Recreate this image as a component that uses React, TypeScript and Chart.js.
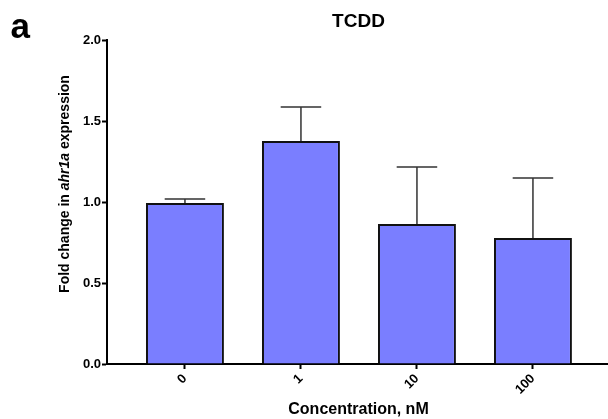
import React, { useEffect, useRef } from "react";
import { Chart, registerables } from "chart.js";

Chart.register(...registerables);

const CATEGORIES = ["0", "1", "10", "100"];
const MEANS = [0.994, 1.377, 0.864, 0.778];
const ERRORS = [0.025, 0.209, 0.352, 0.37];
const Y_TICKS = [0, 0.5, 1.0, 1.5, 2.0];
const PANEL_LABEL = "a";
const TITLE = "TCDD";
const X_TITLE = "Concentration, nM";
const Y_TITLE_PARTS = [
  { text: "Fold change in ", italic: false },
  { text: "ahr1a", italic: true },
  { text: " expression", italic: false },
];

const FONT = "'Liberation Sans', Arial, Helvetica, sans-serif";

const errorBarsPlugin = {
  id: "errorBars",
  afterDatasetsDraw(chart: any) {
    const meta = chart.getDatasetMeta(0);
    const y = chart.scales.y;
    const ctx = chart.ctx as CanvasRenderingContext2D;
    ctx.save();
    ctx.strokeStyle = "#333333";
    ctx.lineWidth = 1.5;
    meta.data.forEach((bar: any, i: number) => {
      const p = bar.getProps(["x", "width"], true);
      const base = y.getPixelForValue(MEANS[i]);
      const top = y.getPixelForValue(MEANS[i] + ERRORS[i]);
      const half = p.width * 0.26;
      ctx.beginPath();
      ctx.moveTo(p.x, base);
      ctx.lineTo(p.x, top);
      ctx.moveTo(p.x - half, top);
      ctx.lineTo(p.x + half, top);
      ctx.stroke();
    });
    ctx.restore();
  },
};

const textPlugin = {
  id: "texts",
  afterDraw(chart: any) {
    const ctx = chart.ctx as CanvasRenderingContext2D;
    const area = chart.chartArea;
    const cx = (area.left + area.right) / 2 + 1;
    ctx.save();
    ctx.fillStyle = "#000";
    ctx.textBaseline = "alphabetic";

    // panel label
    ctx.textAlign = "left";
    ctx.font = `bold 35px ${FONT}`;
    ctx.fillText(PANEL_LABEL, 10.5, 37.5);

    // title
    ctx.textAlign = "center";
    ctx.font = `bold 19px ${FONT}`;
    ctx.fillText(TITLE, cx, 27);

    // x title
    ctx.font = `bold 16px ${FONT}`;
    ctx.fillText(X_TITLE, cx, 414);

    // y title (rotated, mixed italic)
    ctx.translate(68.5, 184);
    ctx.rotate(-Math.PI / 2);
    ctx.textAlign = "left";
    const fonts = Y_TITLE_PARTS.map(
      (p) => `${p.italic ? "italic " : ""}bold 14px ${FONT}`
    );
    let total = 0;
    const widths = Y_TITLE_PARTS.map((p, i) => {
      ctx.font = fonts[i];
      const w = ctx.measureText(p.text).width;
      total += w;
      return w;
    });
    let x = -total / 2;
    Y_TITLE_PARTS.forEach((p, i) => {
      ctx.font = fonts[i];
      ctx.fillText(p.text, x, 0);
      x += widths[i];
    });
    ctx.restore();
  },
};

export default function App() {
  const canvasRef = useRef<HTMLCanvasElement | null>(null);

  useEffect(() => {
    if (!canvasRef.current) return;
    const tickFont = { family: FONT, size: 13, weight: "bold" as const };
    const chart = new Chart(canvasRef.current, {
      type: "bar",
      data: {
        datasets: [
          {
            data: MEANS.map((v, i) => ({ x: i, y: v })),
            backgroundColor: "rgb(122,126,255)",
            borderColor: "#111111",
            borderWidth: 2,
            barPercentage: 0.672,
            categoryPercentage: 1,
          },
        ],
      },
      options: {
        animation: false,
        responsive: false,
        devicePixelRatio: 1,
        layout: { padding: { top: 40, right: 0, bottom: 0, left: 0 } },
        plugins: {
          legend: { display: false },
          tooltip: { enabled: false },
          title: { display: false },
        },
        scales: {
          x: {
            type: "linear",
            min: -0.672,
            max: 3.647,
            offset: false,
            afterBuildTicks: (s: any) => {
              s.ticks = CATEGORIES.map((_, i) => ({ value: i }));
            },
            afterFit: (s: any) => {
              s.height = 55;
            },
            ticks: {
              callback: (v: any) => CATEGORIES[v] ?? "",
              minRotation: 45,
              maxRotation: 45,
              autoSkip: false,
              font: tickFont,
              color: "#000",
              padding: 2,
            },
            grid: {
              offset: false,
              drawOnChartArea: false,
              drawTicks: true,
              tickLength: 5,
              tickWidth: 2,
              color: "#000",
            },
            border: { display: true, color: "#000", width: 2 },
          },
          y: {
            min: 0,
            max: 2,
            afterBuildTicks: (s: any) => {
              s.ticks = Y_TICKS.map((v) => ({ value: v }));
            },
            afterFit: (s: any) => {
              s.width = 107;
            },
            ticks: {
              callback: (v: any) => Number(v).toFixed(1),
              font: tickFont,
              color: "#000",
              padding: 1,
            },
            grid: {
              drawOnChartArea: false,
              drawTicks: true,
              tickLength: 5,
              tickWidth: 2,
              color: "#000",
            },
            border: { display: true, color: "#000", width: 2 },
          },
        },
      } as any,
      plugins: [errorBarsPlugin, textPlugin],
    });
    return () => chart.destroy();
  }, []);

  return (
    <div
      style={{
        position: "absolute",
        left: 0,
        top: 0,
        width: 608,
        height: 419,
        background: "#fff",
      }}
    >
      <canvas ref={canvasRef} width={608} height={419} />
    </div>
  );
}
